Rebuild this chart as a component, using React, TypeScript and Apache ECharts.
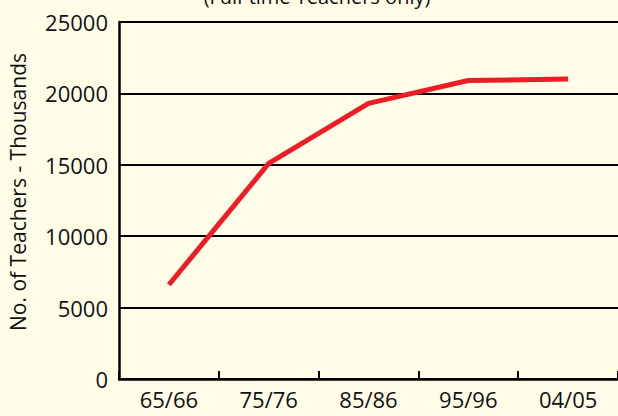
import React, { useEffect, useRef } from "react";
import * as echarts from "echarts";

const categories = ["65/66", "75/76", "85/86", "95/96", "04/05"];
const teachers = [6600, 15100, 19300, 20900, 21000];
const titleText = "(Full-time Teachers only)";
const yName = "No. of Teachers - Thousands";

const FONT = "'Open Sans', 'Noto Sans', sans-serif";

export default function App() {
  const ref = useRef<HTMLDivElement>(null);
  useEffect(() => {
    if (!ref.current) return;
    const chart = echarts.init(ref.current, undefined, { renderer: "svg" });
    chart.setOption({
      animation: false,
      backgroundColor: "#FFFDE7",
      textStyle: { fontFamily: FONT },
      grid: { left: 119, top: 22, right: -1, bottom: 37, containLabel: false },
      graphic: [
        {
          type: "text",
          x: 317,
          y: -4,
          style: {
            text: titleText,
            fontSize: 20,
            fontFamily: FONT,
            fill: "#111",
            align: "center",
            verticalAlign: "middle",
          },
        },
        {
          type: "text",
          x: 18,
          y: 192,
          rotation: Math.PI / 2,
          style: {
            text: yName,
            fontSize: 21,
            fontFamily: FONT,
            fill: "#111",
            align: "center",
            verticalAlign: "middle",
          },
        },
      ],
      xAxis: {
        type: "category",
        data: categories,
        boundaryGap: true,
        axisLine: { show: true, lineStyle: { color: "#000", width: 2.5 } },
        axisTick: { show: true, inside: true, length: 8, lineStyle: { color: "#000", width: 2 } },
        axisLabel: { color: "#111", fontSize: 22, fontFamily: FONT, margin: 9 },
        splitLine: { show: false },
      },
      yAxis: {
        type: "value",
        min: 0,
        max: 25000,
        interval: 5000,
        axisLine: { show: true, lineStyle: { color: "#000", width: 2.5 } },
        axisTick: { show: false },
        axisLabel: {
          color: "#111",
          fontSize: 22,
          fontFamily: FONT,
          margin: 11,
          formatter: (v: number) => String(v),
        },
        splitLine: { show: true, lineStyle: { color: "#000", width: 2 } },
      },
      series: [
        {
          type: "line",
          data: teachers,
          symbol: "none",
          lineStyle: { color: "#EE1C25", width: 5 },
        },
      ],
    });
    return () => chart.dispose();
  }, []);
  return <div ref={ref} style={{ width: 618, height: 416, position: "fixed", left: 0, top: 0 }} />;
}
